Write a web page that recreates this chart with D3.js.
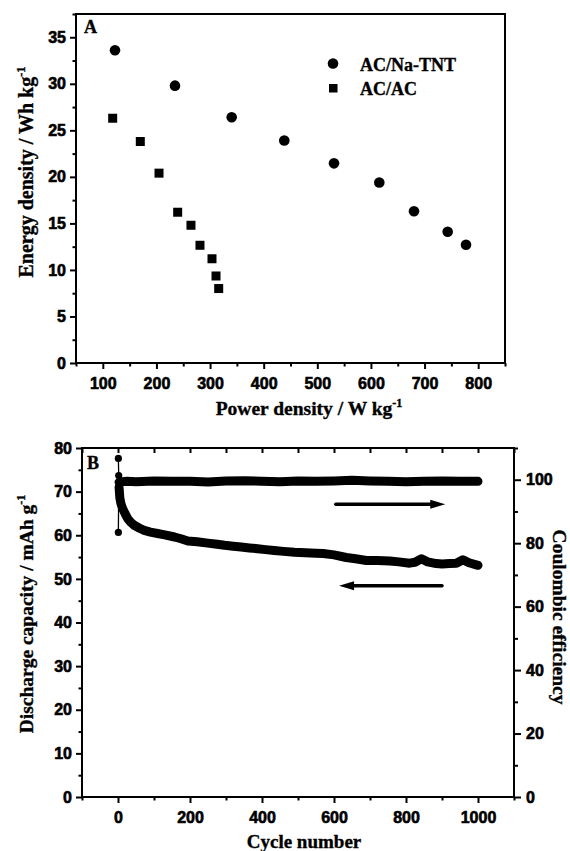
<!DOCTYPE html>
<html>
<head>
<meta charset="utf-8">
<script src="https://cdn.jsdelivr.net/npm/d3@7"></script>
<style>
    body { margin: 0; background: #fff; }
    .axis text { font-family: "Liberation Sans", Arial, sans-serif; font-weight: bold; font-size: 16px; fill: #000; stroke: #000; stroke-width: 0.6px; }
    .label { font-family: "Liberation Serif", "Times New Roman", serif; font-weight: bold; fill: #000; stroke: #000; stroke-width: 0.35px; }
</style>
</head>
<body>
<div id="chart"></div>
<script>

// ---------- Panel A: energy density vs power density ----------
let tntPower  = [122.7, 234.6, 340.3, 438.4, 531.1, 615.6, 680.3, 743.1, 777.3];
let tntEnergy = [33.6, 29.8, 26.4, 23.9, 21.45, 19.4, 16.3, 14.1, 12.7];
let acPower   = [118.4, 169.9, 204.8, 239.6, 264.4, 281.2, 303.6, 311.1, 316.1];
let acEnergy  = [26.3, 23.8, 20.4, 16.2, 14.8, 12.65, 11.2, 9.35, 8.0];
let legendNames = ["AC/Na-TNT", "AC/AC"];

let aXMajor = [100, 200, 300, 400, 500, 600, 700, 800];
let aXMinor = [50, 150, 250, 350, 450, 550, 650, 750, 850];
let aYMajor = [0, 5, 10, 15, 20, 25, 30, 35];
let aYMinor = [2.5, 7.5, 12.5, 17.5, 22.5, 27.5, 32.5, 37.5];

// ---------- Panel B: cycling ----------
let capCycles = [1, 2, 3, 5, 8, 13, 20, 27, 35, 45, 60, 73, 90, 110, 130, 157, 175, 194, 220, 249,
    270, 296, 320, 342, 365, 388, 410, 434, 460, 490, 520, 550, 570, 600, 634, 660, 690, 720, 755, 780,
    810, 825, 843, 860, 884, 900, 921, 940, 958, 975, 1000];
let capValues = [77.6, 73.7, 71.0, 68.6, 67.3, 66.1, 64.9, 63.8, 63.0, 62.3, 61.6, 61.1, 60.7, 60.4, 60.1, 59.6, 59.2, 58.7, 58.5, 58.2,
    58.0, 57.7, 57.5, 57.3, 57.1, 56.9, 56.7, 56.5, 56.3, 56.1, 56.0, 55.9, 55.8, 55.5, 54.9, 54.6, 54.2, 54.2, 54.1, 53.9,
    53.6, 53.8, 54.6, 53.9, 53.5, 53.4, 53.5, 53.6, 54.4, 53.7, 53.1];

let ceCycles = [1, 2, 3, 10, 25, 50, 100, 150, 200, 250, 300, 350, 400, 450, 500, 550, 600, 650, 700, 750, 800, 850, 900, 950, 1000];
let ceValues = [83.4, 97.5, 99.2, 99.4, 99.5, 99.4, 99.6, 99.5, 99.5, 99.3, 99.6, 99.7, 99.5, 99.4, 99.6, 99.5, 99.6, 99.8, 99.6, 99.5,
    99.4, 99.5, 99.6, 99.5, 99.5];

let bXMajor = [0, 200, 400, 600, 800, 1000];
let bXMinor = [-100, 100, 300, 500, 700, 900, 1100];
let bYMajor = [0, 10, 20, 30, 40, 50, 60, 70, 80];
let bYMinor = [5, 15, 25, 35, 45, 55, 65, 75];
let bRMajor = [0, 20, 40, 60, 80, 100];
let bRMinor = [10, 30, 50, 70, 90, 110];

// arrows: [from cycle, to cycle, value]
let arrowCE  = [605, 909, 92.3];
let arrowCap = [900, 614, 48.4];

let svg = d3.select("#chart").append("svg")
    .attr("width", 570)
    .attr("height", 851);

// draws an axis then cleans up the domain path
function axis(g, gen) {
    g.attr("class", "axis").call(gen);
    g.select(".domain").remove();
    g.selectAll(".tick line").attr("stroke", "#000").attr("stroke-width", 2);
    return g;
}

function superLabel(sel, main, sup, size) {
    sel.attr("class", "label").style("font-size", size + "px");
    sel.append("tspan").text(main);
    sel.append("tspan").text(sup).attr("dy", -size * 0.42).style("font-size", (size * 0.62) + "px");
}

/* ================= Panel A ================= */
let A = {left: 76, right: 505, top: 14, bottom: 363};

let ax = d3.scaleLinear().domain([50, 850]).range([A.left, A.right]);
let ay = d3.scaleLinear().domain([0, 37.5]).range([A.bottom, A.top]);

let gA = svg.append("g");

axis(gA.append("g").attr("transform", `translate(0,${A.bottom})`),
    d3.axisBottom(ax).tickValues(aXMajor).tickSize(6).tickPadding(9).tickFormat(d3.format("d")));
axis(gA.append("g").attr("transform", `translate(0,${A.bottom})`),
    d3.axisBottom(ax).tickValues(aXMinor).tickSize(3.5).tickFormat(""));
axis(gA.append("g").attr("transform", `translate(${A.left},0)`),
    d3.axisLeft(ay).tickValues(aYMajor).tickSize(6).tickPadding(4).tickFormat(d3.format("d")));
axis(gA.append("g").attr("transform", `translate(${A.left},0)`),
    d3.axisLeft(ay).tickValues(aYMinor).tickSize(3.5).tickFormat(""));

gA.append("rect")
    .attr("x", A.left).attr("y", A.top)
    .attr("width", A.right - A.left).attr("height", A.bottom - A.top)
    .attr("fill", "none").attr("stroke", "#000").attr("stroke-width", 2);

// AC/Na-TNT circles
gA.selectAll(".tnt")
    .data(tntPower.map((p, i) => [p, tntEnergy[i]]))
    .enter().append("circle")
    .attr("class", "tnt")
    .attr("cx", d => ax(d[0]))
    .attr("cy", d => ay(d[1]))
    .attr("r", 5.3)
    .attr("fill", "#000");

// AC/AC squares
gA.selectAll(".acac")
    .data(acPower.map((p, i) => [p, acEnergy[i]]))
    .enter().append("rect")
    .attr("class", "acac")
    .attr("x", d => ax(d[0]) - 4.5)
    .attr("y", d => ay(d[1]) - 4.5)
    .attr("width", 9).attr("height", 9)
    .attr("fill", "#000");

// legend
gA.append("circle").attr("cx", 333).attr("cy", 63.5).attr("r", 5.3).attr("fill", "#000");
gA.append("rect").attr("x", 329).attr("y", 84).attr("width", 8.5).attr("height", 8.5).attr("fill", "#000");
gA.append("text").attr("class", "label").style("font-size", "18px")
    .attr("x", 360).attr("y", 71).text(legendNames[0]);
gA.append("text").attr("class", "label").style("font-size", "18px")
    .attr("x", 360).attr("y", 95).text(legendNames[1]);

gA.append("text").attr("class", "label").style("font-size", "18px")
    .attr("x", 84).attr("y", 33).text("A");

superLabel(gA.append("text").attr("text-anchor", "middle")
    .attr("transform", `translate(309,415)`), "Power density / W kg", "-1", 19.5);
superLabel(gA.append("text").attr("text-anchor", "middle")
    .attr("transform", `translate(33,172) rotate(-90)`), "Energy density / Wh kg", "-1", 20);

/* ================= Panel B ================= */
let B = {left: 82, right: 514, top: 448, bottom: 797};

let bx = d3.scaleLinear().domain([-100, 1100]).range([B.left, B.right]);
let by = d3.scaleLinear().domain([0, 80]).range([B.bottom, B.top]);
let br = d3.scaleLinear().domain([0, 110]).range([B.bottom, B.top]);

let gB = svg.append("g");

axis(gB.append("g").attr("transform", `translate(0,${B.bottom})`),
    d3.axisBottom(bx).tickValues(bXMajor).tickSize(6).tickPadding(9).tickFormat(d3.format("d")));
axis(gB.append("g").attr("transform", `translate(0,${B.bottom})`),
    d3.axisBottom(bx).tickValues(bXMinor).tickSize(3.5).tickFormat(""));
// top ticks point inward
axis(gB.append("g").attr("transform", `translate(0,${B.top})`),
    d3.axisBottom(bx).tickValues(bXMajor.concat(bXMinor)).tickSize(5).tickFormat(""));
axis(gB.append("g").attr("transform", `translate(${B.left},0)`),
    d3.axisLeft(by).tickValues(bYMajor).tickSize(6).tickPadding(4).tickFormat(d3.format("d")));
axis(gB.append("g").attr("transform", `translate(${B.left},0)`),
    d3.axisLeft(by).tickValues(bYMinor).tickSize(3.5).tickFormat(""));
axis(gB.append("g").attr("transform", `translate(${B.right},0)`),
    d3.axisRight(br).tickValues(bRMajor).tickSize(7).tickPadding(5).tickFormat(d3.format("d")));
axis(gB.append("g").attr("transform", `translate(${B.right},0)`),
    d3.axisRight(br).tickValues(bRMinor).tickSize(4).tickFormat(""));

gB.append("rect")
    .attr("x", B.left).attr("y", B.top)
    .attr("width", B.right - B.left).attr("height", B.bottom - B.top)
    .attr("fill", "none").attr("stroke", "#000").attr("stroke-width", 2);

// one series = thin connecting line + dense dots (drawn as a thick band)
function series(cycles, values, yScale) {
    let pts = cycles.map((c, i) => [bx(c), yScale(values[i])]);
    let line = d3.line();
    gB.append("path").attr("d", line(pts))
        .attr("fill", "none").attr("stroke", "#000").attr("stroke-width", 1.3);
    gB.append("path").attr("d", line(pts.slice(2)))
        .attr("fill", "none").attr("stroke", "#000").attr("stroke-width", 9)
        .attr("stroke-linejoin", "round").attr("stroke-linecap", "round");
    gB.selectAll(null).data(pts).enter().append("circle")
        .attr("cx", d => d[0]).attr("cy", d => d[1]).attr("r", 3.6).attr("fill", "#000");
}
series(capCycles, capValues, by);
series(ceCycles, ceValues, br);

function arrow(a, yScale) {
    let x0 = bx(a[0]), x1 = bx(a[1]), y = yScale(a[2]);
    let dir = x1 > x0 ? 1 : -1;
    gB.append("line")
        .attr("x1", x0).attr("x2", x1 - dir * 12).attr("y1", y).attr("y2", y)
        .attr("stroke", "#000").attr("stroke-width", 3.5).attr("stroke-linecap", "round");
    gB.append("path")
        .attr("d", `M${x1},${y} L${x1 - dir * 15},${y - 4.5} L${x1 - dir * 15},${y + 4.5} Z`)
        .attr("fill", "#000");
}
arrow(arrowCE, br);
arrow(arrowCap, by);

gB.append("text").attr("class", "label").style("font-size", "18px")
    .attr("x", 87).attr("y", 469).text("B");

gB.append("text").attr("class", "label").style("font-size", "19px")
    .attr("text-anchor", "middle").attr("x", 304).attr("y", 848).text("Cycle number");
superLabel(gB.append("text").attr("text-anchor", "middle")
    .attr("transform", `translate(33,614) rotate(-90)`), "Discharge capacity / mAh g", "-1", 19.5);
gB.append("text").attr("class", "label").style("font-size", "19.5px")
    .attr("text-anchor", "middle")
    .attr("transform", `translate(553,617) rotate(90)`)
    .text("Coulombic efficiency");

</script>
</body>
</html>
